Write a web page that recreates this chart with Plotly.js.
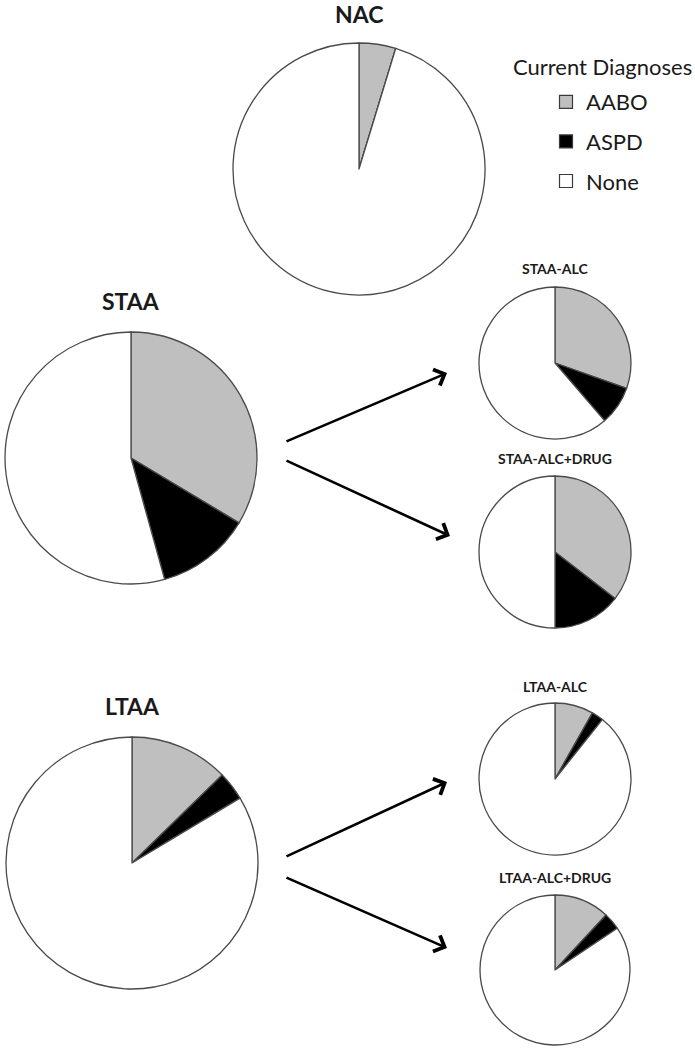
<!DOCTYPE html>
<html>
<head>
<meta charset="utf-8">
<script src="https://cdn.plot.ly/plotly-3.0.1.min.js"></script>
<style>
  html, body { margin: 0; padding: 0; background: #fff; }
  #chart { width: 695px; height: 1050px; }
</style>
</head>
<body>
<div id="chart"></div>
<script>
// Share of each group per current diagnosis (%)
const groups = ['NAC', 'STAA', 'STAA-ALC', 'STAA-ALC+DRUG', 'LTAA', 'LTAA-ALC', 'LTAA-ALC+DRUG'];
const diagnoses = ['AABO', 'ASPD', 'None'];
const aabo = [4.7, 33.6, 30.4, 35.5, 12.7, 8.2, 11.9];
const aspd = [0, 12.1, 8.3, 14.5, 3.7, 2.5, 3.7];
const none = [95.3, 54.3, 61.3, 50.0, 83.6, 89.3, 84.4];

const W = 695, H = 1050;
const sliceColors = ['#bfbfbf', '#000000', '#ffffff'];

// pie placement in pixels: center x, center y, radius
const layoutPx = [
    { cx: 359, cy: 169, r: 126, titleY: 14, big: true },
    { cx: 131, cy: 458, r: 126, titleY: 301, big: true },
    { cx: 555, cy: 363, r: 76, titleY: 268, big: false },
    { cx: 555, cy: 552, r: 76, titleY: 458, big: false },
    { cx: 132, cy: 863, r: 126, titleY: 706, big: true },
    { cx: 555, cy: 779, r: 76, titleY: 686, big: false },
    { cx: 555, cy: 970, r: 75, titleY: 877, big: false }
];

const traces = [];
const annotations = [];

groups.forEach((g, i) => {
    const p = layoutPx[i];
    traces.push({
        type: 'pie',
        name: g,
        labels: diagnoses,
        values: [aabo[i], aspd[i], none[i]],
        sort: false,
        direction: 'clockwise',
        rotation: 0,
        textinfo: 'none',
        hoverinfo: 'label+percent',
        showlegend: false,
        marker: {
            colors: sliceColors,
            line: { color: '#4a4a4a', width: 1.3 }
        },
        domain: {
            x: [(p.cx - p.r) / W, (p.cx + p.r) / W],
            y: [1 - (p.cy + p.r) / H, 1 - (p.cy - p.r) / H]
        }
    });
    annotations.push({
        text: '<b>' + g + '</b>',
        x: p.cx / W, y: 1 - p.titleY / H,
        xref: 'paper', yref: 'paper',
        xanchor: 'center', yanchor: 'middle',
        showarrow: false,
        font: { size: p.big ? 23 : 14, color: '#1a1a1a' }
    });
});

// legend entries, drawn as dummy marker traces so the gap can be tuned
diagnoses.forEach((d, k) => {
    traces.push({
        type: 'scatter',
        mode: 'markers',
        x: [null], y: [null],
        name: d,
        legendgroup: d,
        hoverinfo: 'skip',
        marker: {
            symbol: 'square',
            size: 13,
            color: sliceColors[k],
            line: { color: '#3a3a3a', width: 1.2 }
        }
    });
});

annotations.push({
    text: 'Current Diagnoses',
    x: 511 / W, y: 1 - 67 / H,
    xref: 'paper', yref: 'paper',
    xanchor: 'left', yanchor: 'middle',
    showarrow: false,
    font: { size: 22, color: '#1a1a1a' }
});

// arrows from the parent groups to their subgroups: head (x, y) and tail offset (ax, ay)
const arrows = [
    { x: 447, y: 373, ax: -162, ay: 69 },
    { x: 450, y: 536, ax: -165, ay: -76 },
    { x: 447, y: 782, ax: -162, ay: 75 },
    { x: 447, y: 948, ax: -162, ay: -71 }
];
arrows.forEach(a => {
    annotations.push({
        text: '',
        x: a.x / W, y: 1 - a.y / H,
        xref: 'paper', yref: 'paper',
        ax: a.ax, ay: a.ay,
        showarrow: true,
        arrowhead: 4,
        arrowsize: 1.3,
        arrowwidth: 2.6,
        arrowcolor: '#000'
    });
});

const layout = {
    width: W,
    height: H,
    margin: { t: 0, b: 0, l: 0, r: 0 },
    paper_bgcolor: '#fff',
    plot_bgcolor: '#fff',
    font: { family: 'Lato, "Open Sans", sans-serif', color: '#1a1a1a' },
    xaxis: { visible: false, fixedrange: true },
    yaxis: { visible: false, fixedrange: true },
    showlegend: true,
    legend: {
        x: 546 / W, y: 1 - 81 / H,
        xanchor: 'left', yanchor: 'top',
        traceorder: 'grouped',
        tracegroupgap: 8,
        bgcolor: 'rgba(0,0,0,0)',
        font: { size: 22, color: '#1a1a1a' }
    },
    annotations: annotations
};

Plotly.newPlot('chart', traces, layout, { displayModeBar: false, staticPlot: true });
</script>
</body>
</html>
